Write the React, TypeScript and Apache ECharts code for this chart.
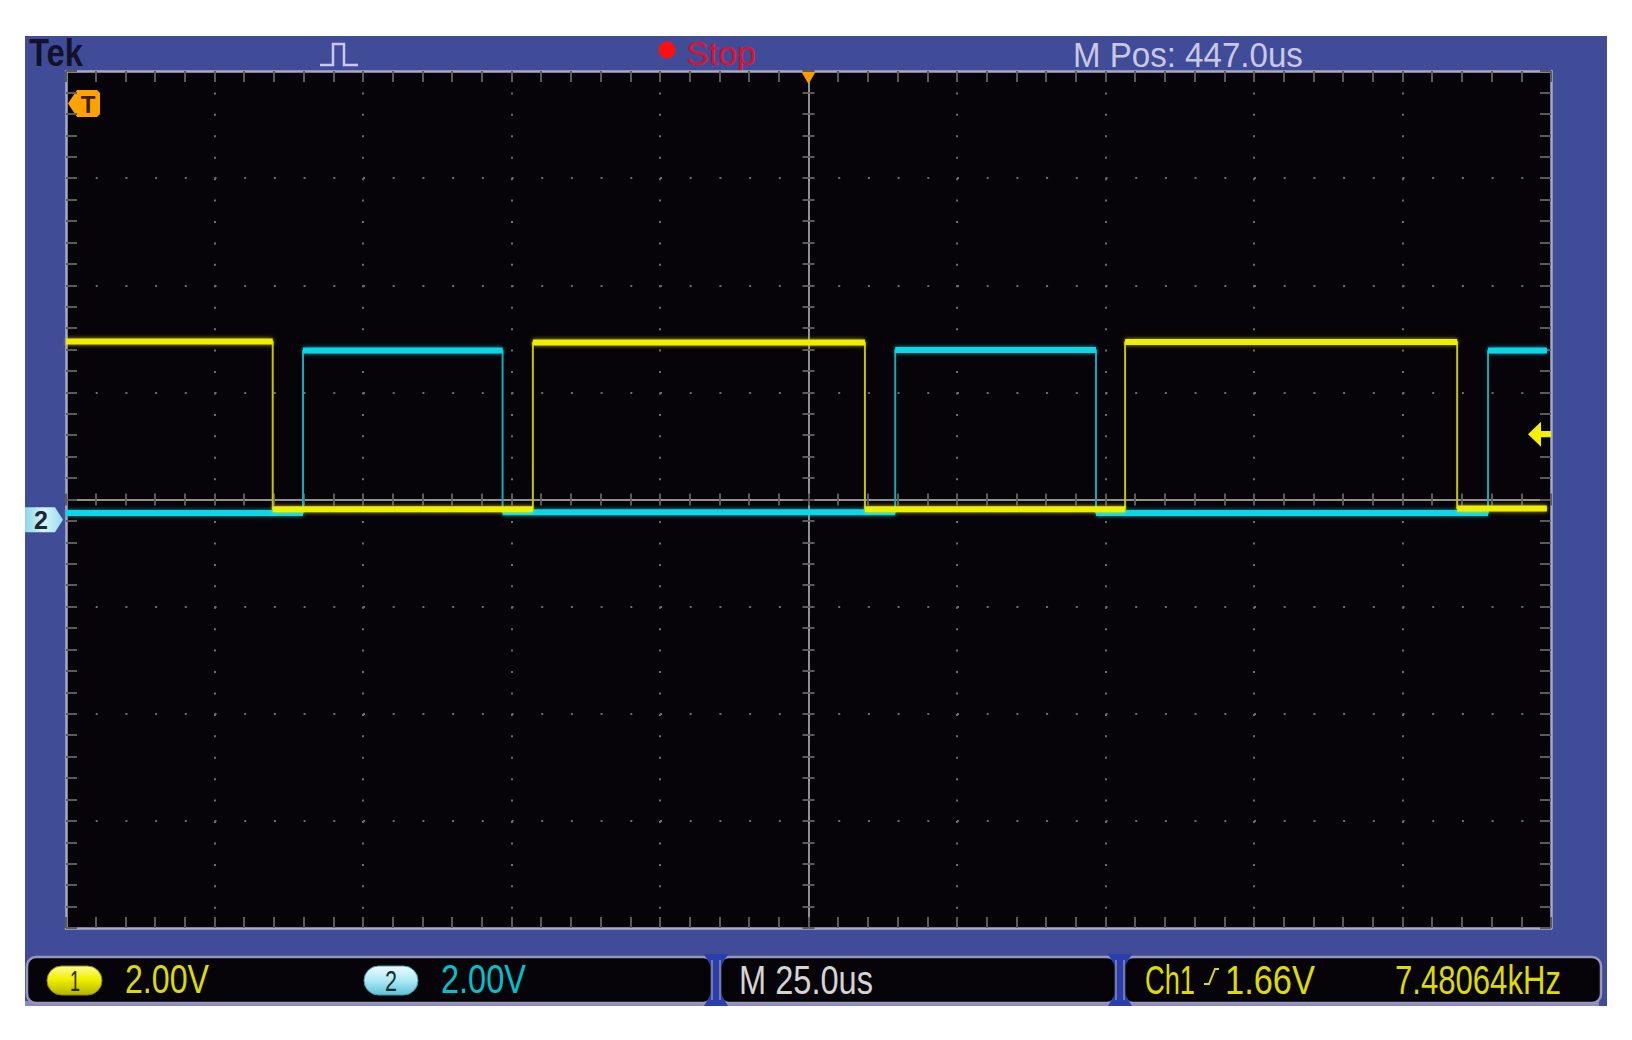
import React, { useEffect, useRef } from "react";
import * as echarts from "echarts";

// Horizontal: 25.0 µs/div, 10 divisions, centred on the trigger point
const timeMinUs = -125;
const timeMaxUs = 125;
const timePerDivUs = 25;
// Vertical: 2.00 V/div, 8 divisions (screen volts, centre = 0)
const voltMin = -8;
const voltMax = 8;
const voltPerDiv = 2;

// Channel 1 (yellow): segment boundaries (µs) and the level of each segment (V above ch1 ground)
const ch1Times = [-125, -90.2, -46.4, 9.5, 53.3, 109.2, 124.3];
const ch1Levels = [3.39, 0.26, 3.37, 0.26, 3.38, 0.27];
const ch1GroundV = -0.44; // screen position of ch1 ground

// Channel 2 (cyan)
const ch2Times = [-125, -85.1, -51.5, 14.6, 48.4, 114.4, 124.3];
const ch2Levels = [0.13, 3.16, 0.14, 3.17, 0.13, 3.16];
const ch2GroundV = -0.38; // screen position of ch2 ground marker

const triggerLevelV = 1.66;
const triggerTimeUs = 0;

// Texts
const brandLabel = "Tek";
const runStateLabel = "Stop";
const positionLabel = "M Pos: 447.0us";
const ch1Tag = "1";
const ch2Tag = "2";
const ch1ScaleLabel = "2.00V";
const ch2ScaleLabel = "2.00V";
const timebaseLabel = "M 25.0us";
const triggerSourceLabel = "Ch1";
const triggerLevelLabel = "1.66V";
const frequencyLabel = "7.48064kHz";

// ---------------- helpers ----------------
function stepTrace(times: number[], levels: number[], ground: number) {
  const pts: (number | null)[][] = [];
  for (let i = 0; i < levels.length; i++) {
    pts.push([times[i], levels[i] + ground]);
    pts.push([times[i + 1], levels[i] + ground]);
  }
  return pts;
}
function levelBands(times: number[], levels: number[], ground: number) {
  const pts: (number | null)[][] = [];
  for (let i = 0; i < levels.length; i++) {
    pts.push([times[i], levels[i] + ground]);
    pts.push([times[i + 1], levels[i] + ground]);
    pts.push([null, null]);
  }
  return pts;
}

const FAMILY = '"Liberation Sans", Arial, sans-serif';
let measureCtx: CanvasRenderingContext2D | null = null;
function fitText(
  text: string,
  x: number,
  yMid: number,
  width: number,
  size: number,
  color: string,
  weight: string = "normal"
) {
  if (!measureCtx) measureCtx = document.createElement("canvas").getContext("2d");
  let w = width;
  if (measureCtx) {
    measureCtx.font = `${weight} ${size}px ${FAMILY}`;
    w = measureCtx.measureText(text).width || width;
  }
  return {
    type: "text",
    x,
    y: yMid,
    scaleX: width / w,
    silent: true,
    style: {
      text,
      fill: color,
      fontSize: size,
      fontWeight: weight,
      fontFamily: FAMILY,
      align: "left",
      verticalAlign: "middle",
    },
  };
}

function App() {
  const ref = useRef<HTMLDivElement>(null);

  useEffect(() => {
    document.body.style.margin = "0";
    if (!ref.current) return;
    const chart = echarts.init(ref.current, undefined, { renderer: "svg" });

    const dotGray = "#6c6c6c";
    const tickGray = "#5a5a5a";
    const borderGray = "#a9a9c6";

    const xBase = {
      type: "value",
      min: timeMinUs,
      max: timeMaxUs,
      interval: timePerDivUs,
      axisLabel: { show: false },
      minorSplitLine: { show: false },
    };
    const yBase = {
      type: "value",
      min: voltMin,
      max: voltMax,
      interval: voltPerDiv,
      axisLabel: { show: false },
      minorSplitLine: { show: false },
    };
    const centerTick = (inside: boolean) => ({
      axisTick: { show: true, inside, length: 6, lineStyle: { color: tickGray, width: 2 } },
      minorTick: { show: true, splitNumber: 5, length: 6, lineStyle: { color: tickGray, width: 2 } },
    });
    const borderTick = {
      axisTick: { show: true, inside: true, length: 11, lineStyle: { color: tickGray, width: 2 } },
      minorTick: { show: true, splitNumber: 5, length: 11, lineStyle: { color: tickGray, width: 2 } },
    };

    const xAxis = [
      {
        ...xBase,
        position: "bottom",
        axisLine: { show: true, onZero: true, onZeroAxisIndex: 0, lineStyle: { color: "#bfbfbf", width: 1.5 } },
        ...centerTick(true),
        splitLine: { show: true, lineStyle: { color: dotGray, width: 2, type: [2, 19.43] } },
      },
      {
        ...xBase,
        position: "bottom",
        axisLine: { show: false, onZero: true, onZeroAxisIndex: 0 },
        ...centerTick(false),
        splitLine: { show: false },
      },
      {
        ...xBase,
        position: "top",
        axisLine: { show: true, onZero: false, lineStyle: { color: borderGray, width: 2.5 } },
        ...borderTick,
        splitLine: { show: false },
      },
      {
        ...xBase,
        position: "bottom",
        axisLine: { show: true, onZero: false, lineStyle: { color: borderGray, width: 2.5 } },
        ...borderTick,
        splitLine: { show: false },
      },
    ];
    const yAxis = [
      {
        ...yBase,
        position: "left",
        axisLine: { show: true, onZero: true, onZeroAxisIndex: 0, lineStyle: { color: "#bfbfbf", width: 1.5 } },
        ...centerTick(true),
        splitLine: { show: true, lineStyle: { color: dotGray, width: 2, type: [2, 27.7] } },
      },
      {
        ...yBase,
        position: "left",
        axisLine: { show: false, onZero: true, onZeroAxisIndex: 0 },
        ...centerTick(false),
        splitLine: { show: false },
      },
      {
        ...yBase,
        position: "left",
        axisLine: { show: true, onZero: false, lineStyle: { color: borderGray, width: 2.5 } },
        ...borderTick,
        splitLine: { show: false },
      },
      {
        ...yBase,
        position: "right",
        axisLine: { show: true, onZero: false, lineStyle: { color: borderGray, width: 2.5 } },
        ...borderTick,
        splitLine: { show: false },
      },
    ];

    const cyanGrad = new echarts.graphic.LinearGradient(0, 0, 0, 1, [
      { offset: 0, color: "#eefcff" },
      { offset: 0.5, color: "#aee8f4" },
      { offset: 1, color: "#5ec2d6" },
    ]);
    const yellowGrad = new echarts.graphic.LinearGradient(0, 0, 0, 1, [
      { offset: 0, color: "#fbfb9a" },
      { offset: 0.45, color: "#f2f000" },
      { offset: 1, color: "#b4b400" },
    ]);
    const ch2MarkGrad = new echarts.graphic.LinearGradient(0, 0, 1, 0, [
      { offset: 0, color: "#8ed6e6" },
      { offset: 0.5, color: "#d4f6fc" },
      { offset: 1, color: "#9adcec" },
    ]);

    const series = [
      {
        name: "CH2 edges",
        type: "line",
        xAxisIndex: 0,
        yAxisIndex: 0,
        data: stepTrace(ch2Times, ch2Levels, ch2GroundV),
        symbol: "none",
        silent: true,
        lineStyle: { color: "#14a9ba", width: 2 },
        z: 3,
      },
      {
        name: "CH2",
        type: "line",
        xAxisIndex: 0,
        yAxisIndex: 0,
        data: levelBands(ch2Times, ch2Levels, ch2GroundV),
        symbol: "none",
        silent: true,
        connectNulls: false,
        lineStyle: { color: "#0cd6e6", width: 6, shadowBlur: 4, shadowColor: "rgba(12,214,230,0.7)" },
        z: 4,
        markPoint: {
          silent: true,
          label: { show: false },
          data: [
            {
              coord: [timeMinUs, ch2GroundV],
              symbol: "path://M0 0 L30 0 L38 12 L30 24 L0 24 Z",
              symbolSize: [38, 25],
              symbolOffset: [-22, 0],
              itemStyle: { color: ch2MarkGrad },
              label: {
                show: true,
                formatter: ch2Tag,
                position: "inside",
                offset: [-3, 0],
                color: "#1b2733",
                fontSize: 25,
                fontWeight: "bold",
                fontFamily: FAMILY,
              },
            },
          ],
        },
      },
      {
        name: "CH1 edges",
        type: "line",
        xAxisIndex: 0,
        yAxisIndex: 0,
        data: stepTrace(ch1Times, ch1Levels, ch1GroundV),
        symbol: "none",
        silent: true,
        lineStyle: { color: "#c4c400", width: 2 },
        z: 5,
      },
      {
        name: "CH1",
        type: "line",
        xAxisIndex: 0,
        yAxisIndex: 0,
        data: levelBands(ch1Times, ch1Levels, ch1GroundV),
        symbol: "none",
        silent: true,
        connectNulls: false,
        lineStyle: { color: "#f0ee00", width: 6, shadowBlur: 4, shadowColor: "rgba(240,238,0,0.7)" },
        z: 6,
        markPoint: {
          silent: true,
          label: { show: false },
          data: [
            {
              coord: [timeMaxUs, triggerLevelV + ch1GroundV],
              symbol: "path://M0 12 L13 0 L13 9 L23 9 L23 15 L13 15 L13 24 Z",
              symbolSize: [23, 25],
              symbolOffset: [-11.5, 0],
              itemStyle: { color: "#f4f000" },
            },
            {
              coord: [triggerTimeUs, voltMax],
              symbol: "path://M0 0 L14 0 L7 12 Z",
              symbolSize: [14, 12],
              symbolOffset: [0, 7],
              itemStyle: { color: "#ff9c00" },
            },
          ],
        },
      },
    ];

    const beam = (cx: number) => ({
      type: "polygon",
      silent: true,
      shape: {
        points: [
          [cx - 12, 954],
          [cx + 12, 954],
          [cx + 5, 966],
          [cx + 5, 994],
          [cx + 12, 1006],
          [cx - 12, 1006],
          [cx - 5, 994],
          [cx - 5, 966],
        ],
      },
      style: { fill: "#2a3eac" },
    });
    const beamLines = (cx: number) => [
      { type: "line", silent: true, shape: { x1: cx - 4, y1: 960, x2: cx - 4, y2: 1000 }, style: { stroke: "#8c8cb8", lineWidth: 1.5 } },
      { type: "line", silent: true, shape: { x1: cx + 4, y1: 960, x2: cx + 4, y2: 1000 }, style: { stroke: "#8c8cb8", lineWidth: 1.5 } },
    ];
    const box = (x: number, w: number) => ({
      type: "rect",
      silent: true,
      shape: { x, y: 957, width: w, height: 46, r: 9 },
      style: { fill: "#060408", stroke: "#9696be", lineWidth: 2.5 },
    });

    const graphic = [
      // header
      fitText(brandLabel, 29, 52.5, 54, 39, "#12122a", "bold"),
      {
        type: "polyline",
        silent: true,
        shape: { points: [[320, 65], [333, 65], [333, 44], [344, 44], [344, 65], [358, 65]] },
        style: { stroke: "#c8c8ee", lineWidth: 2.5, fill: "none" },
      },
      { type: "circle", silent: true, shape: { cx: 667, cy: 50, r: 8.5 }, style: { fill: "#ff1010" } },
      fitText(runStateLabel, 686, 54, 70, 33, "#e0102e"),
      fitText(positionLabel, 1073, 54.5, 230, 36, "#c8c8e6"),
      // T marker (trigger position off-screen to the left)
      {
        type: "group",
        x: 68,
        y: 90,
        silent: true,
        children: [
          {
            type: "polygon",
            shape: { points: [[0, 13.5], [9, 0], [29, 0], [32, 3], [32, 24], [29, 27], [9, 27]] },
            style: { fill: "#ffa200" },
          },
          {
            type: "text",
            x: 20,
            y: 14,
            style: {
              text: "T",
              fill: "#3a2200",
              fontSize: 24,
              fontWeight: "bold",
              fontFamily: FAMILY,
              align: "center",
              verticalAlign: "middle",
            },
          },
        ],
      },
      // bottom status bar
      { type: "rect", silent: true, shape: { x: 25, y: 1001, width: 1574, height: 5 }, style: { fill: "#8a8abc" } },
      box(27, 685),
      box(720, 396),
      box(1124, 477),
      beam(716),
      ...beamLines(716),
      beam(1120),
      ...beamLines(1120),
      {
        type: "rect",
        silent: true,
        shape: { x: 47, y: 966, width: 55, height: 29, r: 14.5 },
        style: { fill: yellowGrad, stroke: "#8a8a00", lineWidth: 1 },
      },
      fitText(ch1Tag, 70, 981, 10, 30, "#2a2a00"),
      fitText(ch1ScaleLabel, 125, 979.5, 84, 41, "#dcdc00"),
      {
        type: "rect",
        silent: true,
        shape: { x: 364, y: 966, width: 54, height: 29, r: 14.5 },
        style: { fill: cyanGrad, stroke: "#4a9aaa", lineWidth: 1 },
      },
      fitText(ch2Tag, 385, 981, 12, 30, "#1a2a33"),
      fitText(ch2ScaleLabel, 441, 979.5, 85, 41, "#00c2cc"),
      fitText(timebaseLabel, 739, 979.5, 134, 41, "#d4d4d4"),
      fitText(triggerSourceLabel, 1145, 979.5, 50, 41, "#dcdc00"),
      {
        type: "polyline",
        silent: true,
        shape: { points: [[1204, 984], [1209, 984], [1215, 969], [1219, 969]] },
        style: { stroke: "#dcdc00", lineWidth: 2, fill: "none" },
      },
      fitText(triggerLevelLabel, 1225, 979.5, 90, 41, "#dcdc00"),
      fitText(frequencyLabel, 1395, 979.5, 166, 41, "#dcdc00"),
    ];

    chart.setOption({
      animation: false,
      backgroundColor: "transparent",
      grid: {
        left: 66,
        top: 71,
        width: 1485,
        height: 857,
        show: true,
        backgroundColor: "#070409",
        borderWidth: 0,
      },
      xAxis,
      yAxis,
      series,
      graphic: { elements: graphic },
    });

    return () => {
      chart.dispose();
    };
  }, []);

  return (
    <div style={{ position: "relative", width: 1632, height: 1040, background: "#ffffff" }}>
      <div
        style={{
          position: "absolute",
          left: 25,
          top: 36,
          width: 1582,
          height: 970,
          background: "#404c98",
        }}
      />
      <div ref={ref} style={{ position: "absolute", left: 0, top: 0, width: 1632, height: 1040 }} />
    </div>
  );
}

export default App;
